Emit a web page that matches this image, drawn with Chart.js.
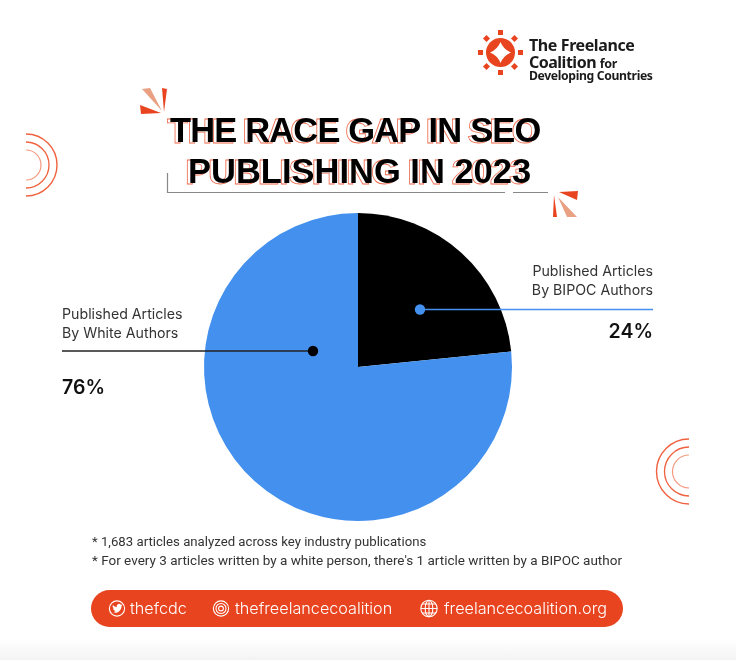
<!DOCTYPE html>
<html lang="en">

<head>
    <meta charset="UTF-8">
    <title>The Race Gap in SEO Publishing in 2023</title>
    <style>
        html, body {
            margin: 0;
            padding: 0;
            background: #fff;
        }

        #page {
            position: relative;
            width: 736px;
            height: 660px;
            overflow: hidden;
            background: linear-gradient(to bottom, #fff 0, #fff 640px, #f3f3f3 660px);
            font-family: Inter, Arial, sans-serif;
            color: #333;
        }

        #myChart, #marks {
            position: absolute;
            left: 0;
            top: 0;
        }

        .t {
            position: absolute;
            white-space: nowrap;
            line-height: 1;
        }

        .title {
            font-family: "Liberation Sans", Arial, sans-serif;
            font-weight: 700;
            font-size: 34.5px;
            color: #000;
            z-index: 1;
        }

        /* the orange outlined copy sitting behind the black title */
        .title::before {
            content: attr(data-text);
            position: absolute;
            left: -3px;
            top: 1px;
            z-index: -1;
            color: #fff;
            -webkit-text-stroke: .8px #ee6a4b;
        }

        .label {
            font-size: 14.2px;
            line-height: 18.5px;
            color: #333;
        }

        .pct {
            font-size: 19.5px;
            font-weight: 600;
            color: #111;
        }

        .note {
            font-family: Roboto, Arial, sans-serif;
            font-size: 13.5px;
            color: #333;
        }

        .pill {
            font-family: Inter, Arial, sans-serif;
            font-weight: 300;
            font-size: 16.2px;
            color: #fff;
        }

        .logo {
            font-family: "Noto Sans", Arial, sans-serif;
            font-weight: 700;
            color: #1b1b1b;
        }
    </style>
    <script src="https://cdn.jsdelivr.net/npm/chart.js"></script>
</head>

<body>
    <div id="page">
        <canvas id="myChart" width="736" height="660"></canvas>

        <svg id="marks" width="736" height="660" viewBox="0 0 736 660">
            <!-- logo -->
            <g fill="#e8441f">
                <circle cx="500.5" cy="52.5" r="14.5"/>
                <rect x="498" y="30" width="5" height="5"/>
                <rect x="498" y="70" width="5" height="5"/>
                <rect x="478" y="50" width="5" height="5"/>
                <rect x="518" y="50" width="5" height="5"/>
                <rect x="484" y="36" width="5" height="5" transform="rotate(45 486.5 38.5)"/>
                <rect x="512" y="36" width="5" height="5" transform="rotate(45 514.5 38.5)"/>
                <rect x="484" y="64" width="5" height="5" transform="rotate(45 486.5 66.5)"/>
                <rect x="512" y="64" width="5" height="5" transform="rotate(45 514.5 66.5)"/>
            </g>
            <path d="M500.5 42 Q503.5 49.5 511 52.5 Q503.5 55.5 500.5 63 Q497.5 55.5 490 52.5 Q497.5 49.5 500.5 42Z" fill="#fff"/>

            <!-- bursts by the title -->
            <path d="M162 88 L167 89 L164 112Z M140 105 L161 113 L141 114Z M554 195 L557 217 L553 217Z M559 192 L578 191 L577 200Z" fill="#e8441f"/>
            <path d="M142 89 L150 88 L162 111Z M558 197 L577 217 L567 217Z" fill="#e9a083"/>

            <!-- bracket under the title -->
            <path d="M167.5 173 V192.5 H505 M513 192.5 H548" fill="none" stroke="#888" stroke-width="1.2"/>

            <!-- half rings on the sides -->
            <g fill="none">
                <path d="M26 134 A31 31 0 0 1 26 196" stroke="#f0623f" stroke-width="1.4"/>
                <path d="M26 142 A23 23 0 0 1 26 188" stroke="#f0623f" stroke-width="1.3"/>
                <path d="M26 150 A15 15 0 0 1 26 180" stroke="#f59a80" stroke-width="1.2"/>
                <path d="M689 439 A32.5 32.5 0 0 0 689 504" stroke="#f0623f" stroke-width="1.4"/>
                <path d="M689 447 A24.5 24.5 0 0 0 689 496" stroke="#f0623f" stroke-width="1.3"/>
                <path d="M689 455 A16.5 16.5 0 0 0 689 488" stroke="#f59a80" stroke-width="1.2"/>
            </g>

            <!-- callouts -->
            <path d="M420 309.5 H653" stroke="#4390ee" stroke-width="1.3"/>
            <circle cx="420" cy="309.5" r="5.2" fill="#4390ee"/>
            <path d="M62 351 H313" stroke="#222" stroke-width="1.4"/>
            <circle cx="313" cy="351" r="5.2" fill="#000"/>

            <!-- footer pill -->
            <rect x="91" y="590" width="532" height="37" rx="18.5" fill="#e8441f"/>
            <g fill="none" stroke="#fff" stroke-width="1.1">
                <circle cx="117" cy="608.5" r="7.6"/>
                <circle cx="221" cy="608.5" r="7.6"/>
                <circle cx="221" cy="608.5" r="5"/>
                <circle cx="221" cy="608.5" r="2.4"/>
                <circle cx="429" cy="608.5" r="8.2"/>
                <ellipse cx="429" cy="608.5" rx="3.8" ry="8.2"/>
                <path d="M429 600.3 V616.7 M421 608.5 H437 M422.2 604 H435.8 M422.2 613 H435.8"/>
            </g>
            <path d="M112.5 612.5 Q117.5 614 120 610.5 Q122 608 121.6 605.8 L122.8 604.5 L121 604.8 Q119.6 603.2 117.8 604.2 Q116.4 605 116.8 607 Q114.3 606.8 112.8 605 Q112 607 113.8 608.6 L112.9 608.4 Q113.2 610 115 610.6 L114 610.7 Q114.6 611.7 115.9 611.9 Q114.4 612.8 112.5 612.5Z" fill="#fff"/>
        </svg>

        <div class="t logo" style="left:529px;top:37px;font-size:16px;letter-spacing:-.4px">The Freelance</div>
        <div class="t logo" style="left:529px;top:54px;font-size:16px;letter-spacing:-.5px">Coalition <span style="font-size:12.5px;letter-spacing:-.3px">for</span></div>
        <div class="t logo" style="left:529px;top:70px;font-size:12.2px;letter-spacing:-.35px">Developing Countries</div>

        <div class="t title" style="left:170px;top:113px;letter-spacing:-.85px" data-text="THE RACE GAP IN SEO">THE RACE GAP IN SEO</div>
        <div class="t title" style="left:188px;top:154px" data-text="PUBLISHING IN 2023">PUBLISHING IN 2023</div>

        <div class="t label" style="right:83px;top:262px;text-align:right">Published Articles<br>By BIPOC Authors</div>
        <div class="t pct" style="right:83px;top:322px">24%</div>
        <div class="t label" style="left:62px;top:305px">Published Articles<br>By White Authors</div>
        <div class="t pct" style="left:62px;top:378px">76%</div>

        <div class="t note" style="left:92px;top:535px;font-size:13.2px">* 1,683 articles analyzed across key industry publications</div>
        <div class="t note" style="left:92px;top:554px">* For every 3 articles written by a white person, there's 1 article written by a BIPOC author</div>

        <div class="t pill" style="left:130px;top:600px">thefcdc</div>
        <div class="t pill" style="left:235px;top:600px">thefreelancecoalition</div>
        <div class="t pill" style="left:444px;top:600px">freelancecoalition.org</div>
    </div>

    <script>
        const categories = ['Published Articles By BIPOC Authors', 'Published Articles By White Authors'];
        // shares as the slices are actually drawn in the picture (the printed labels say 24% / 76%)
        const sliceValues = [23.4, 76.6];
        const sliceColors = ['#000000', '#4390ee'];

        new Chart(document.getElementById('myChart'), {
            type: 'pie',
            data: {
                labels: categories,
                datasets: [{
                    data: sliceValues,
                    backgroundColor: sliceColors,
                    borderWidth: 0
                }]
            },
            options: {
                responsive: false,
                animation: false,
                layout: {
                    padding: { left: 204, right: 224, top: 213, bottom: 139 }
                },
                plugins: {
                    legend: { display: false },
                    tooltip: { enabled: false }
                }
            }
        });
    </script>
</body>

</html>
